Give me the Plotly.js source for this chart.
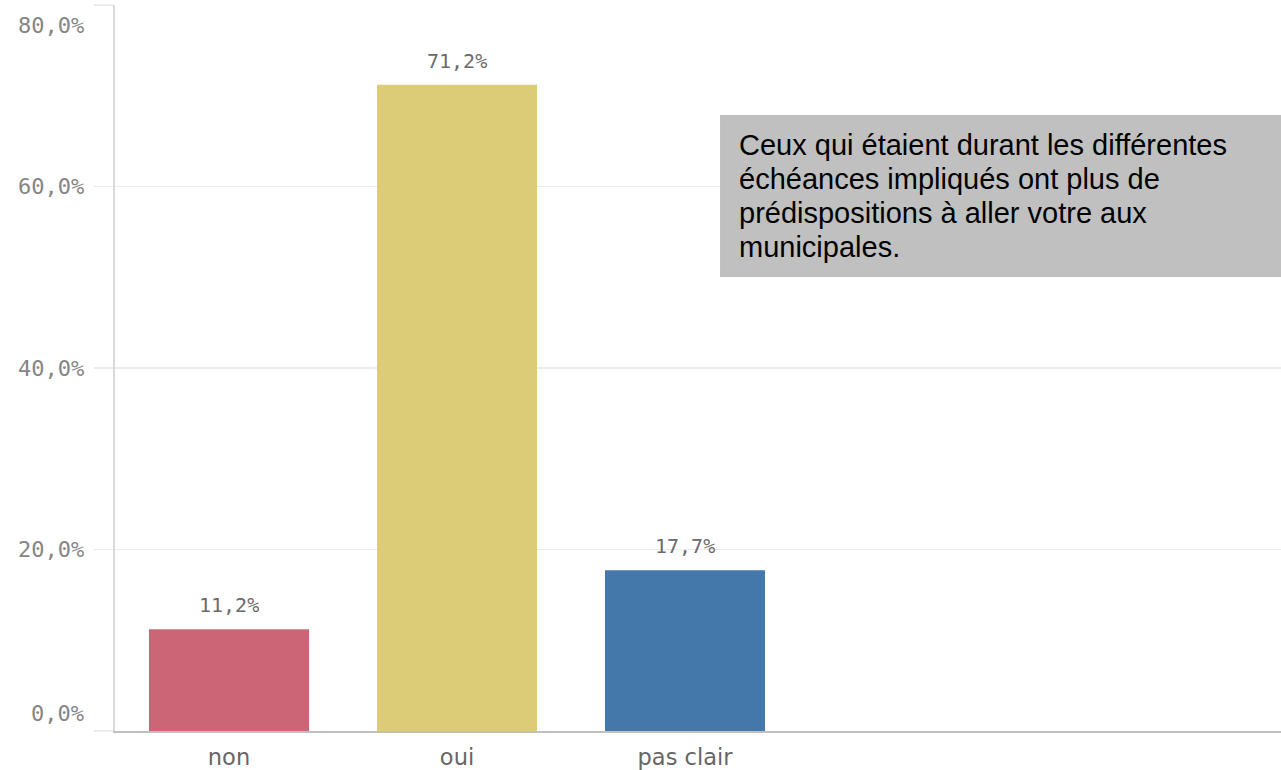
<!DOCTYPE html>
<html>
<head>
<meta charset="utf-8">
<script src="https://cdn.plot.ly/plotly-3.0.1.min.js"></script>
<style>html,body{margin:0;padding:0;background:#fff;}#chart{width:1281px;height:770px;}</style>
</head>
<body>
<div id="chart"></div>
<script>
const categories = ["non", "oui", "pas clair"];
const values = [11.2, 71.2, 17.7];
const valueLabels = ["11,2%", "71,2%", "17,7%"];
const barColors = ["#cc6677", "#ddcc77", "#4477aa"];
const tickVals = [0, 20, 40, 60, 80];
const tickText = ["0,0%", "20,0%", "40,0%", "60,0%", "80,0%"];
const noteLines = [
  "Ceux qui étaient durant les différentes",
  "échéances impliqués ont plus de",
  "prédispositions à aller votre aux",
  "municipales."
];

const numFont = "DejaVu Sans Mono, monospace";

const annotations = [];
values.forEach((v, i) => {
  annotations.push({
    x: categories[i], y: v, xref: "x", yref: "y",
    text: valueLabels[i], showarrow: false,
    xanchor: "center", yanchor: "bottom", yshift: 10,
    font: {family: numFont, size: 20, color: "#6b6b6b"}
  });
});
tickVals.forEach((t, i) => {
  const last = i === tickVals.length - 1;
  const first = i === 0;
  annotations.push({
    x: 0, xref: "paper", y: t, yref: "y",
    text: tickText[i], showarrow: false,
    xanchor: "right", xshift: -29,
    yanchor: first ? "bottom" : (last ? "top" : "middle"),
    yshift: first ? 3 : (last ? -6 : 0),
    font: {family: numFont, size: 22, color: "#858585"}
  });
});
// note box text, one annotation per line (34 px line pitch)
const plotTop = 5, plotH = 726, firstLineCenter = 145, linePitch = 34;
noteLines.forEach((line, i) => {
  const c = firstLineCenter + i * linePitch;
  annotations.push({
    x: 0.5334, xref: "paper", y: (plotTop + plotH - c) / plotH, yref: "paper",
    xanchor: "left", yanchor: "middle", align: "left",
    text: line, showarrow: false,
    font: {family: "Liberation Sans, Arial, sans-serif", size: 29, color: "#000000"}
  });
});

const data = [{
  type: "bar",
  x: categories,
  y: values,
  marker: {color: barColors, line: {width: 0}},
  hoverinfo: "none"
}];

const layout = {
  width: 1281, height: 770,
  margin: {l: 115, r: 0, t: 5, b: 39, pad: 0},
  paper_bgcolor: "#ffffff", plot_bgcolor: "#ffffff",
  showlegend: false,
  bargap: 0.298,
  xaxis: {
    type: "category",
    range: [-0.5, 4.614],
    showgrid: false,
    showline: true, linecolor: "#c0c0c0", linewidth: 1.5,
    ticks: "", zeroline: false,
    tickfont: {family: "DejaVu Sans, sans-serif", size: 22.5, color: "#666666"},
    ticklabelstandoff: 5
  },
  yaxis: {
    range: [0, 80],
    tickvals: tickVals,
    showticklabels: false,
    showgrid: true, gridcolor: "#ebebeb", gridwidth: 1.5,
    ticks: "outside", ticklen: 19, tickcolor: "#ebebeb", tickwidth: 1.5,
    showline: true, linecolor: "#d9d9d9", linewidth: 2,
    zeroline: false
  },
  shapes: [{
    type: "rect", xref: "paper", yref: "paper",
    x0: 0.5189, x1: 1.02, y0: 0.6253, y1: 0.8485,
    fillcolor: "#c0c0c0", line: {width: 0}, layer: "above"
  }],
  annotations: annotations
};

Plotly.newPlot("chart", data, layout, {displayModeBar: false, staticPlot: true});
</script>
</body>
</html>
